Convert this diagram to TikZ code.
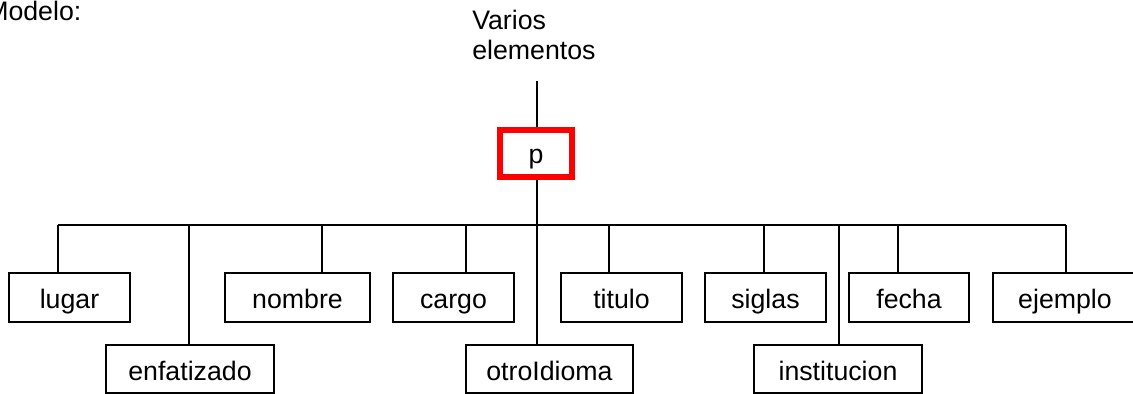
\documentclass[tikz,border=0pt]{standalone}
\usepackage{fontspec}
\setmainfont{Liberation Sans}
\usetikzlibrary{positioning}

\definecolor{boxred}{RGB}{255,0,0}

\tikzset{
  elem/.style={draw, line width=0.05cm, inner sep=0pt, text height=0.875cm, text depth=0.325cm},
  root/.style={draw=boxred, line width=0.1375cm, inner sep=0pt, minimum width=1.8cm, text height=0.825cm, text depth=0.35cm},
  plain/.style={inner sep=0pt},
  link/.style={line width=0.05cm},
}

\begin{document}
\begin{tikzpicture}[x=0.025cm, y=-0.025cm, font=\fontsize{19}{21.3}\selectfont]
  \useasboundingbox (0,0) rectangle (1133,394);
  \clip (0,0) rectangle (1133,394);

  \node[plain, anchor=base west] (modelo) at (-14,21) {Modelo:};
  \node[plain, anchor=north west, align=left] (varios) at (472,9.5) {Varios\\elementos};

  \node[root] (p) at (536,153.5) {p};

  % first row
  \node[elem, minimum width=3cm]    (lugar)   at (69.5,297.5)  {lugar};
  \node[elem, minimum width=3.6cm]  (nombre)  at (297.5,297.5) {nombre};
  \node[elem, minimum width=3cm]    (cargo)   at (453.5,297.5) {cargo};
  \node[elem, minimum width=3cm]    (titulo)  at (621.5,297.5) {titulo};
  \node[elem, minimum width=3cm]    (siglas)  at (765.5,297.5) {siglas};
  \node[elem, minimum width=3cm]    (fecha)   at (909,297.5)   {fecha};
  \node[elem, minimum width=3.6cm]  (ejemplo) at (1065,297.5)  {ejemplo};

  % second row
  \node[elem, minimum width=4.2cm]  (enfatizado)  at (190,369)   {enfatizado};
  \node[elem, minimum width=4.15cm] (otroIdioma)  at (549.5,369) {otroIdioma};
  \node[elem, minimum width=4.2cm]  (institucion) at (838,369)   {institucion};

  % connectors
  \coordinate (top) at (537,81);
  \draw[link] (top) -- (top |- p.north);
  \draw[link] (top |- p.south) -- (top |- otroIdioma.north);
  \coordinate (bar west) at (58,225);
  \coordinate (bar east) at (1066,225);
  \draw[link] (bar west) -- (bar east);
  \foreach \n/\x in {lugar/58, enfatizado/189, nombre/322, cargo/466, titulo/609,
                     siglas/764, institucion/839, fecha/898, ejemplo/1066} {
    \coordinate (stem) at (\x,225);
    \draw[link] (stem) -- (stem |- \n.north);
  }
\end{tikzpicture}
\end{document}
